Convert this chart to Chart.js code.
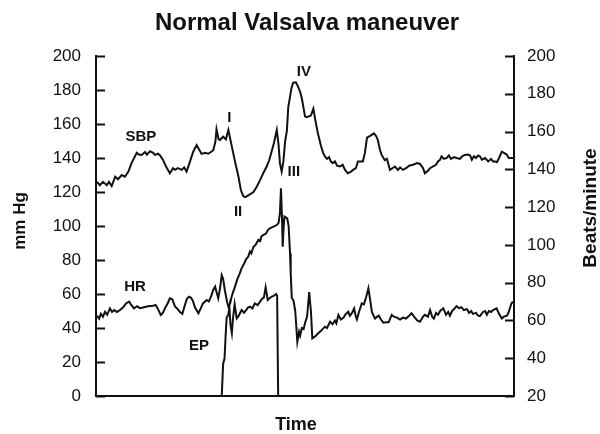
<!DOCTYPE html>
<html>
<head>
<meta charset="utf-8">
<script src="https://cdn.jsdelivr.net/npm/chart.js@4.4.1/dist/chart.umd.min.js"></script>
<style>
  html, body { margin: 0; padding: 0; background: #fff; }
  #box { width: 600px; height: 434px; }
</style>
</head>
<body>
<div id="box"><canvas id="grafica"></canvas></div>
<script>
// Tiempo en segundos (0-120) y valores de cada trazo
const sbpTime = [0.3, 1.1, 2.0, 3.1, 3.7, 4.5, 5.5, 6.3, 7.4, 8.3, 9.3, 10.2, 11.7, 12.3, 13.1, 14.1, 14.6, 15.5, 16.4, 16.9,
  17.8, 18.4, 19.2, 20.1, 21.2, 22.1, 22.7, 23.5, 24.6, 25.3, 26.0, 27.0, 27.9, 28.9, 29.6, 30.3, 31.3, 32.2, 33.0, 33.7,
  34.3, 34.6, 35.2, 35.6, 36.5, 37.3, 38.0, 39.0, 39.9, 40.9, 41.6, 42.3, 42.9, 43.7, 44.5, 45.2, 46.1, 47.1, 48.0, 49.0,
  49.7, 50.4, 51.1, 51.9, 52.4, 52.8, 53.3, 53.8, 54.3, 54.8, 55.2, 55.7, 56.1, 56.6, 57.4, 58.0, 58.6, 59.1, 59.7, 60.0,
  60.5, 61.1, 61.7, 62.4, 62.9, 63.7, 64.6, 65.2, 65.7, 66.3, 66.9, 67.4, 68.0, 68.6, 69.2, 70.0, 70.8, 71.5, 72.3, 73.2,
  73.8, 74.6, 75.2, 76.6, 77.2, 77.8, 78.7, 79.8, 80.4, 80.9, 81.5, 82.0, 82.9, 83.5, 84.4, 85.1, 85.8, 86.7, 87.3, 88.1,
  89.0, 89.9, 91.0, 92.2, 93.0, 93.9, 94.4, 95.3, 95.9, 96.7, 97.6, 98.2, 98.8, 99.2, 99.9, 100.7, 101.3, 101.9, 102.8, 103.5,
  104.5, 105.1, 105.9, 106.8, 107.4, 107.9, 108.5, 109.1, 109.7, 110.2, 110.8, 111.7, 112.6, 113.4, 114.0, 114.5, 115.1, 115.7, 116.5, 117.1,
  117.9, 118.5, 119.2, 120.0];
const sbpValues = [126, 124, 126, 124, 126, 123.5, 129, 127.5, 130, 129, 132, 137, 143, 142, 141.8, 143.5, 142, 144, 143, 141.8,
  142.5, 141.5, 139, 135, 131, 134, 133, 134, 133, 134.5, 132, 138, 143.7, 147.6, 145, 142.4, 143, 142.5, 143.5, 144.7,
  150, 156.9, 151, 150.6, 152.5, 151, 156.5, 146.7, 138, 129, 121, 117.5, 117, 118, 119, 120, 123, 127, 131, 135,
  138.5, 143.7, 149, 156.5, 148, 137, 132, 138, 150, 156, 170, 176, 181, 184.3, 184.5, 182, 179, 175, 168, 164.5,
  164, 164.5, 165, 169, 163, 154.5, 147, 143, 141, 139.5, 140.5, 138, 137, 138, 135.5, 135, 136, 133, 131, 132,
  133, 134, 138, 138, 143, 152, 153, 154.5, 153, 150.6, 145, 141.8, 138.8, 139.5, 133, 134, 135, 133, 134.5, 133,
  134, 135.5, 136, 137, 136.5, 134, 131, 132.5, 134, 135, 136, 138, 139, 141, 139.5, 140, 141.5, 139.5, 140.5, 140,
  139.5, 141, 141.8, 142, 141.5, 139, 141, 140, 141.5, 141, 139, 140, 138, 139.5, 138, 138, 137.5, 140, 143.7, 143,
  142, 140, 140, 140];

const hrTime = [0.3, 0.9, 1.4, 2.0, 2.6, 3.2, 4.0, 4.6, 5.2, 6.0, 6.9, 7.8, 8.6, 9.5, 10.0, 10.9, 11.8, 12.6, 13.8, 14.9,
  16.0, 17.1, 17.8, 18.6, 19.2, 19.8, 20.7, 21.2, 21.9, 22.7, 23.3, 24.1, 24.8, 25.5, 26.1, 26.7, 27.3, 27.8, 28.4, 29.4,
  30.1, 30.7, 31.8, 32.4, 33.2, 33.6, 34.2, 34.6, 35.1, 35.6, 36.1, 36.5, 37.0, 37.6, 38.0, 38.5, 39.0, 39.9, 40.6, 41.2,
  41.8, 42.5, 43.1, 43.7, 44.2, 44.6, 45.2, 45.8, 46.6, 47.1, 47.5, 48.0, 48.8, 49.4, 49.9, 50.8, 51.9, 52.4, 52.8, 53.1,
  53.4, 53.6, 53.8, 54.1, 54.9, 55.3, 55.7, 55.9, 56.2, 56.7, 57.2, 57.8, 58.3, 58.6, 59.1, 59.6, 60.0, 60.6, 61.2, 61.7,
  62.1, 62.9, 63.8, 64.6, 65.7, 66.3, 67.2, 67.9, 68.6, 69.0, 69.6, 70.3, 71.1, 71.5, 72.4, 72.9, 73.5, 74.1, 74.6, 74.9,
  75.5, 76.3, 76.9, 77.5, 78.2, 78.7, 79.2, 80.1, 80.7, 81.2, 81.8, 82.5, 83.3, 84.0, 84.9, 85.5, 86.4, 87.3, 88.1, 89.0,
  89.9, 90.6, 91.3, 92.2, 93.0, 93.9, 94.4, 95.3, 95.9, 96.5, 97.0, 97.6, 98.2, 98.8, 99.7, 100.5, 101.1, 101.6, 102.2, 102.8,
  103.5, 104.2, 104.9, 105.6, 106.5, 107.1, 107.7, 108.2, 109.1, 109.7, 110.2, 111.1, 111.7, 112.2, 112.8, 113.4, 114.0, 115.0, 115.7, 116.5,
  117.1, 118.0, 118.5, 119.2, 119.7];
const hrValues = [62.5, 61, 63.5, 62, 64.6, 63, 66.4, 64.5, 65.5, 64.5, 65.5, 67, 69, 70, 68.5, 66.4, 67.5, 66.5, 67, 67.5,
  67.6, 68.2, 66, 62.9, 64, 66.5, 69.5, 71.7, 71.2, 67.3, 66.4, 64.5, 63.5, 68, 71.5, 72.6, 72, 70.5, 67, 63.8,
  66.5, 69, 70.8, 70, 73.5, 76, 77.9, 75, 71.7, 77, 84, 82, 76, 70, 67.3, 69, 73, 77.9, 82, 84.5,
  87.6, 90, 92.5, 93.7, 96.5, 95.5, 99, 100, 102.6, 102, 104.5, 105.2, 106, 108, 108.8, 109.5, 110.5, 111.5, 116.7, 130,
  114, 99, 107, 115, 114, 110, 95.5, 85, 72, 70.5, 65, 48.7, 54, 52, 56, 55.5, 58.5, 62, 75, 65,
  50.5, 51.5, 53.2, 54.5, 56.7, 56, 59.3, 58, 60, 58.5, 62.9, 60.5, 61.5, 63, 64.6, 62.5, 64, 66.4, 62, 60.5,
  64.5, 69, 68.5, 72, 77, 71, 64.5, 61, 62, 62.5, 60.5, 58.8, 59, 59, 62.9, 62, 61.5, 60.5, 61.5, 61,
  62.5, 63.8, 62, 60, 59.3, 62, 63, 62, 65.5, 62, 61, 64, 63, 65, 66.4, 63, 64.5, 62.5, 65, 66,
  67.6, 66.5, 67, 65.5, 66, 64, 65, 63.5, 64, 62.5, 62.3, 64.5, 65, 63, 65, 64.5, 65.5, 66.4, 63.5, 61,
  62, 62.5, 64.5, 68.7, 70];

const epTime = [36.1, 36.5, 36.9, 37.2, 37.5, 38.0, 38.3, 38.6, 39.0, 39.3, 39.8, 40.4, 40.9, 41.3, 41.8, 42.5, 43.1, 43.6, 44.2, 44.9,
  45.6, 46.4, 47.1, 47.6, 48.2, 48.7, 49.3, 49.8, 50.5, 51.1, 51.7, 52.0, 52.3];
const epValues = [0, 19, 22, 35, 46, 48, 52, 42, 37, 45, 54, 45.7, 47, 48.5, 50.6, 49, 50.5, 52, 52.5, 51.5,
  54.5, 53.5, 55.5, 57, 58, 64, 56.5, 57.5, 58.5, 59, 60, 59, 0];

// Marcas de los ejes
const mmHgTicks = [0, 20, 40, 60, 80, 100, 120, 140, 160, 180, 200];
const bpmTicks = [20, 40, 60, 80, 100, 120, 140, 160, 180, 200];

// Rótulos sobre las curvas (tiempo, mm Hg)
const rotulos = [
  { texto: "SBP", t: 12.9, v: 152.4 },
  { texto: "I", t: 38.3, v: 163.5 },
  { texto: "II", t: 40.8, v: 108.2 },
  { texto: "III", t: 56.8, v: 131.8 },
  { texto: "IV", t: 59.7, v: 190.6 },
  { texto: "HR", t: 11.2, v: 64.1 },
  { texto: "EP", t: 29.6, v: 29.4 }
];

function puntos(tiempos, valores) {
  return tiempos.map((t, i) => ({ x: t, y: valores[i] }));
}

const negro = "#111";
const fuente = "'Liberation Sans', Arial, Helvetica, sans-serif";

// Marcas hacia dentro, título, rótulos y títulos de los ejes
const extras = {
  id: "extras",
  afterDraw(chart) {
    const { ctx, chartArea } = chart;
    const yL = chart.scales.y;
    const yR = chart.scales.yHR;
    const x = chart.scales.x;
    ctx.save();
    ctx.strokeStyle = negro;
    ctx.lineWidth = 2;
    mmHgTicks.forEach(v => {
      const py = Math.round(yL.getPixelForValue(v)) + 0.5;
      ctx.beginPath();
      ctx.moveTo(chartArea.left, py);
      ctx.lineTo(chartArea.left + 9, py);
      ctx.stroke();
    });
    bpmTicks.forEach(v => {
      const py = Math.round(yR.getPixelForValue(v)) + 0.5;
      ctx.beginPath();
      ctx.moveTo(chartArea.right, py);
      ctx.lineTo(chartArea.right - 9, py);
      ctx.stroke();
    });

    ctx.fillStyle = negro;
    ctx.textAlign = "center";
    ctx.textBaseline = "middle";
    ctx.font = "bold 24px " + fuente;
    ctx.fillText("Normal Valsalva maneuver", 307, 23);

    ctx.font = "bold 15px " + fuente;
    rotulos.forEach(r => {
      ctx.fillText(r.texto, x.getPixelForValue(r.t), yL.getPixelForValue(r.v));
    });

    ctx.font = "bold 18px " + fuente;
    ctx.fillText("Time", 296, 425);
    ctx.save();
    ctx.translate(20, 221);
    ctx.rotate(-Math.PI / 2);
    ctx.font = "bold 17px " + fuente;
    ctx.fillText("mm Hg", 0, 0);
    ctx.restore();
    ctx.save();
    ctx.translate(591, 208);
    ctx.rotate(-Math.PI / 2);
    ctx.font = "bold 19px " + fuente;
    ctx.fillText("Beats/minute", 0, 0);
    ctx.restore();
    ctx.restore();
  }
};

const linea = { borderColor: negro, borderWidth: 2, pointRadius: 0, tension: 0, fill: false };

new Chart(document.getElementById("grafica").getContext("2d"), {
  type: "line",
  data: {
    datasets: [
      Object.assign({ label: "SBP", data: puntos(sbpTime, sbpValues), yAxisID: "y" }, linea),
      Object.assign({ label: "HR", data: puntos(hrTime, hrValues), yAxisID: "yHR" }, linea),
      Object.assign({ label: "EP", data: puntos(epTime, epValues), yAxisID: "y", clip: false }, linea)
    ]
  },
  options: {
    responsive: true,
    maintainAspectRatio: false,
    animation: false,
    layout: { padding: { left: 0, right: 0, top: 56, bottom: 0 } },
    plugins: {
      legend: { display: false },
      tooltip: { enabled: false },
      title: { display: false }
    },
    scales: {
      x: {
        type: "linear",
        min: 0,
        max: 120,
        ticks: { display: false },
        grid: { display: false, drawTicks: false },
        border: { display: true, color: negro, width: 2 },
        afterFit(s) { s.height = 38; }
      },
      y: {
        position: "left",
        min: 0,
        max: 200,
        afterBuildTicks(s) { s.ticks = mmHgTicks.map(v => ({ value: v })); },
        ticks: { color: negro, padding: 15, font: { family: fuente, size: 17 } },
        grid: { display: false, drawTicks: false },
        border: { display: true, color: negro, width: 2 },
        afterFit(s) { s.width = 96; }
      },
      yHR: {
        position: "right",
        min: 20,
        max: 200,
        afterBuildTicks(s) { s.ticks = bpmTicks.map(v => ({ value: v })); },
        ticks: { color: negro, padding: 13, font: { family: fuente, size: 17 } },
        grid: { display: false, drawTicks: false },
        border: { display: true, color: negro, width: 2 },
        afterFit(s) { s.width = 86; }
      }
    }
  },
  plugins: [extras]
});
</script>
</body>
</html>
